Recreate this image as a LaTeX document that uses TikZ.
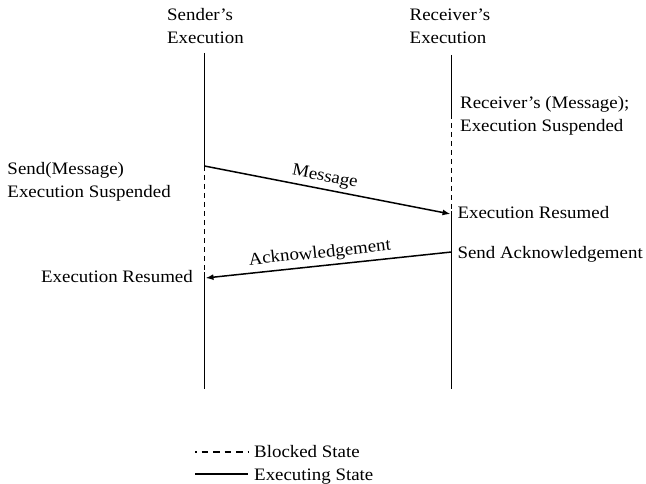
\documentclass[tikz,border=0pt]{standalone}
\usepackage{fontspec}
\setmainfont{Liberation Serif}[FakeStretch=1.08]
\usetikzlibrary{arrows.meta}
\begin{document}
\begin{tikzpicture}[x=1bp,y=-1bp,
  lbl/.style={font=\fontsize{17.5bp}{21bp}\selectfont, inner sep=0pt},
  exec/.style={line width=1.5bp},
  blocked/.style={line width=1.5bp, dash pattern=on 5bp off 4bp},
  legdash/.style={line width=1.5bp, dash pattern=on 6.5bp off 5bp, dash phase=5bp},
  msg/.style={line width=1.5bp, -{Latex[length=8bp,width=6bp]}},
  arrlbl/.style={font=\fontsize{17.5bp}{21bp}\selectfont, sloped, above, inner sep=3.5bp}]
\useasboundingbox (0,0) rectangle (646,484);

% headers
\node[lbl, anchor=base west] (sn1) at (167,21) {Sender’s};
\node[lbl, anchor=base west] (sn2) at (167,43.5) {Execution};
\node[lbl, anchor=base west] (rn1) at (409.5,21) {Receiver’s};
\node[lbl, anchor=base west] (rn2) at (409.5,43.5) {Execution};

% lifeline points
\coordinate (s0) at (204.5,53);
\coordinate (s1) at (204.5,166);
\coordinate (s2) at (204.5,272);
\coordinate (s3) at (204.5,389);
\coordinate (sin) at (205.5,278);
\coordinate (r0) at (451.5,55);
\coordinate (r1) at (451.5,114);
\coordinate (r2) at (451.5,211);
\coordinate (r3) at (451.5,252);
\coordinate (r4) at (451.5,389);
\coordinate (rin) at (450.5,214);

% lifelines
\draw[exec] (s0) -- (s1);
\draw[blocked] (s1) -- (s2);
\draw[exec] (s2) -- (s3);
\draw[exec] (r0) -- (r1);
\draw[blocked] (r1) -- (r2);
\draw[exec] (r2) -- (r4);

% messages
\draw[msg] (s1) -- node[arrlbl, pos=0.48] (ml) {Message} (rin);
\draw[msg] (r3) -- node[arrlbl, pos=0.53] (al) {Acknowledgement} (sin);

% annotations
\node[lbl, anchor=base west] (rm1) at (460,108.5) {Receiver’s (Message);};
\node[lbl, anchor=base west] (rm2) at (460,131.5) {Execution Suspended};
\node[lbl, anchor=base west] (sm1) at (7.3,174.3) {Send(Message)};
\node[lbl, anchor=base west] (sm2) at (7.3,197.7) {Execution Suspended};
\node[lbl, anchor=base west] (rr) at (457.3,219) {Execution Resumed};
\node[lbl, anchor=base west] (ra) at (457.3,258.3) {Send Acknowledgement};
\node[lbl, anchor=base east] (sr) at (193,282) {Execution Resumed};

% legend
\node[lbl, anchor=base west] (lb) at (254,457) {Blocked State};
\node[lbl, anchor=base west] (le) at (254,480) {Executing State};
\coordinate (lbs) at (195,452);
\coordinate (lbe) at (248,452);
\coordinate (les) at (195,474);
\coordinate (lee) at (248,474);
\draw[legdash] (lbs) -- (lbe);
\draw[exec] (les) -- (lee);
\end{tikzpicture}
\end{document}
